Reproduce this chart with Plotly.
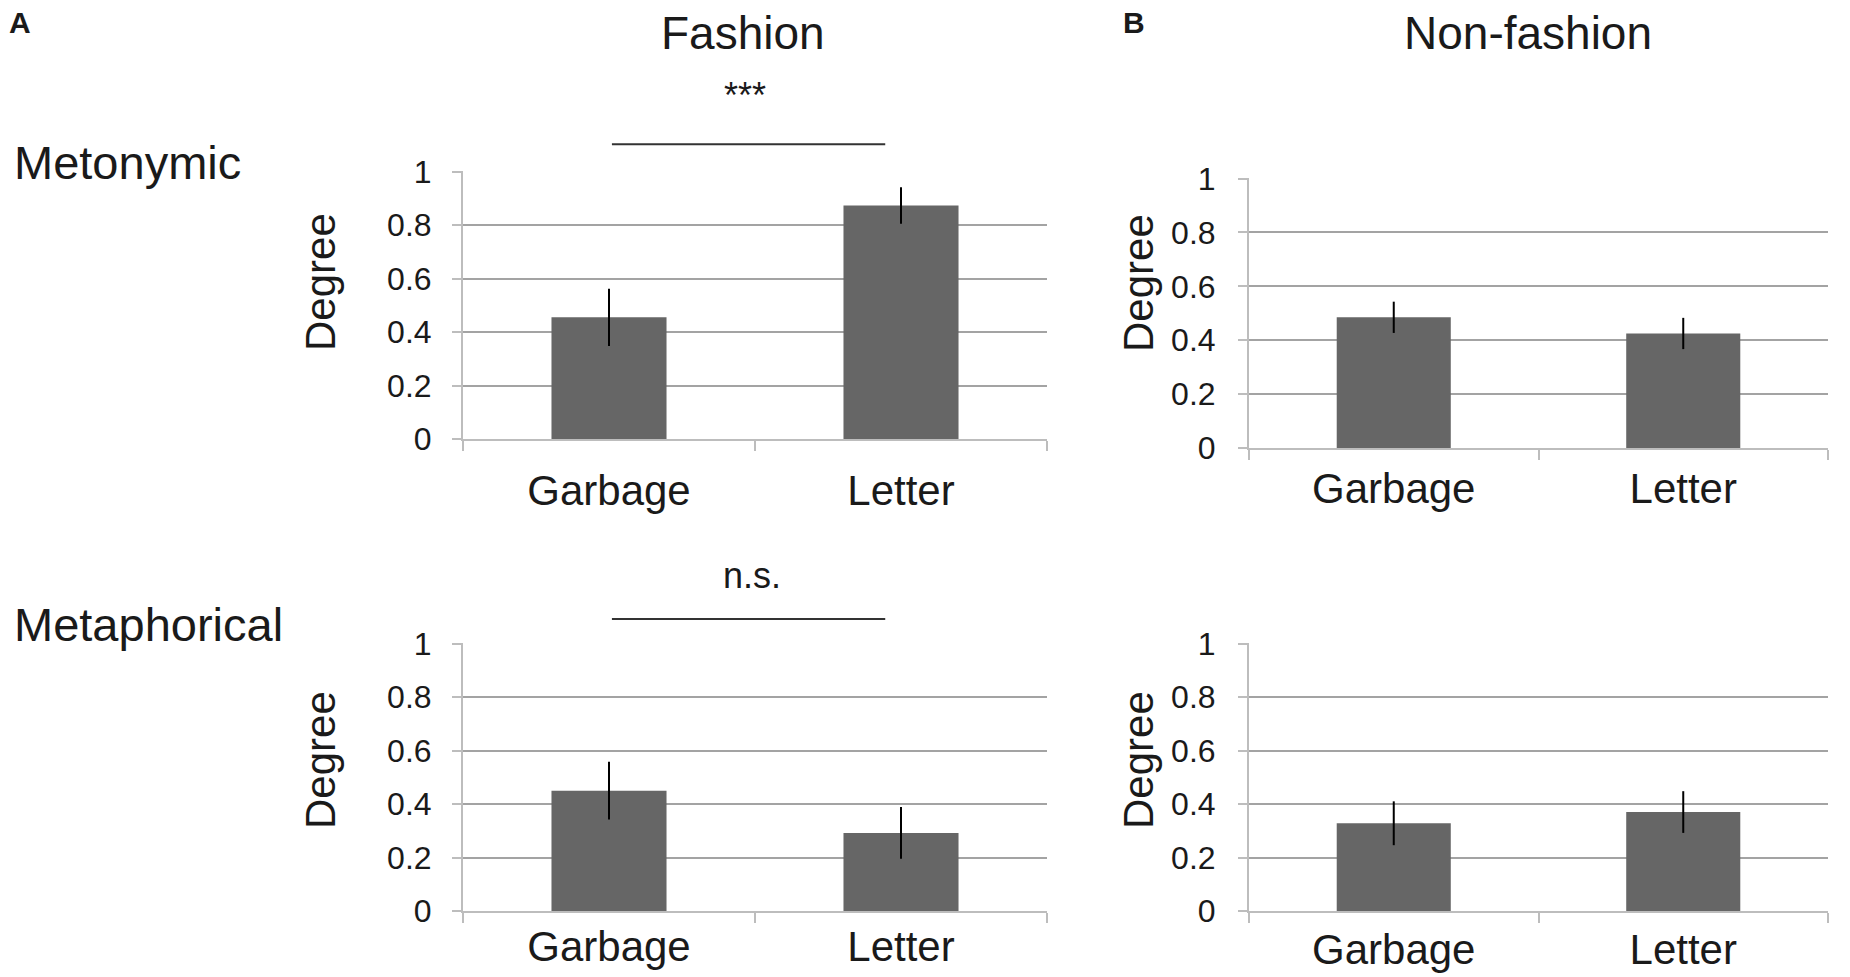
import plotly.graph_objects as go

W, H = 1850, 977

categories = ["Garbage", "Letter"]

fashion_metonymic = [0.455, 0.873]
fashion_metonymic_err = [0.107, 0.068]

nonfashion_metonymic = [0.485, 0.425]
nonfashion_metonymic_err = [0.058, 0.058]

fashion_metaphorical = [0.450, 0.292]
fashion_metaphorical_err = [0.108, 0.097]

nonfashion_metaphorical = [0.328, 0.370]
nonfashion_metaphorical_err = [0.082, 0.078]

y_ticks = [0, 0.2, 0.4, 0.6, 0.8, 1]
y_ticktext = ["0", "0.2", "0.4", "0.6", "0.8", "1"]

FONT = "Liberation Sans, Arial, sans-serif"
BAR = "#666666"
GRID = "#a3a3a3"
AXIS = "#bdbdbd"
TXT = "#1a1a1a"

fig = go.Figure()

panels = [
    ("x", "y", fashion_metonymic, fashion_metonymic_err),
    ("x2", "y2", nonfashion_metonymic, nonfashion_metonymic_err),
    ("x3", "y3", fashion_metaphorical, fashion_metaphorical_err),
    ("x4", "y4", nonfashion_metaphorical, nonfashion_metaphorical_err),
]
for xa, ya, vals, errs in panels:
    fig.add_trace(go.Bar(
        x=categories, y=vals, xaxis=xa, yaxis=ya,
        marker=dict(color=BAR, line=dict(width=0)),
        error_y=dict(type="data", array=errs, visible=True,
                     color="#000000", thickness=2, width=0),
        showlegend=False, hoverinfo="skip",
    ))

def px(v):
    return v / W

def py(v):
    return 1 - v / H

# domains (pixel based)
xdom_left = [px(463), px(1047)]
xdom_right = [px(1249), px(1828)]
ydom_tl = [py(439), py(171)]
ydom_tr = [py(448), py(178)]
ydom_bot = [py(911), py(643)]

def xaxis_cfg(domain, anchor, standoff):
    return dict(
        domain=domain, anchor=anchor, type="category", automargin=False,
        showline=True, linecolor=AXIS, linewidth=2,
        ticks="outside", tickson="boundaries", ticklen=10,
        tickcolor=AXIS, tickwidth=2,
        ticklabelstandoff=standoff,
        tickfont=dict(family=FONT, size=42, color=TXT),
        showgrid=False, zeroline=False, fixedrange=True,
    )

def yaxis_cfg(domain, anchor, standoff):
    return dict(
        domain=domain, anchor=anchor, range=[0, 1.002], automargin=False,
        tickvals=y_ticks, ticktext=y_ticktext,
        showline=True, linecolor=AXIS, linewidth=2,
        ticks="outside", ticklen=9, tickcolor=AXIS, tickwidth=2,
        ticklabelstandoff=standoff,
        tickfont=dict(family=FONT, size=32, color=TXT),
        showgrid=True, gridcolor=GRID, gridwidth=2,
        zeroline=False, fixedrange=True,
    )

fig.update_layout(
    width=W, height=H,
    margin=dict(l=0, r=0, t=0, b=0, pad=0, autoexpand=False),
    paper_bgcolor="white", plot_bgcolor="white",
    bargap=0.606,
    font=dict(family=FONT, color=TXT),
    xaxis=xaxis_cfg(xdom_left, "y", 14),
    yaxis=yaxis_cfg(ydom_tl, "x", 14),
    xaxis2=xaxis_cfg(xdom_right, "y2", 3),
    yaxis2=yaxis_cfg(ydom_tr, "x2", 16),
    xaxis3=xaxis_cfg(xdom_left, "y3", -2),
    yaxis3=yaxis_cfg(ydom_bot, "x3", 14),
    xaxis4=xaxis_cfg(xdom_right, "y4", 1),
    yaxis4=yaxis_cfg(ydom_bot, "x4", 16),
)

ann = []
def text(t, x, y, size, xanchor="center", yanchor="middle", angle=0, bold=False):
    ann.append(dict(
        text=f"<b>{t}</b>" if bold else t,
        x=px(x), y=py(y), xref="paper", yref="paper",
        xanchor=xanchor, yanchor=yanchor, textangle=angle,
        showarrow=False, font=dict(family=FONT, size=size, color=TXT),
    ))

text("A", 20, 23, 30, bold=True)
text("B", 1134, 23, 30, bold=True)
text("Fashion", 743, 33, 46)
text("Non-fashion", 1528, 33, 46)
text("Metonymic", 12, 162, 47, xanchor="left")
text("Metaphorical", 12, 624, 47, xanchor="left")
text("***", 745, 95, 36)
text("n.s.", 752, 575, 36)
text("Degree", 320, 282, 42, angle=-90)
text("Degree", 1138, 283, 42, angle=-90)
text("Degree", 320, 760, 42, angle=-90)
text("Degree", 1138, 760, 42, angle=-90)
fig.update_layout(annotations=ann)

# significance brackets
for xr, yr, yv in [("x domain", "y domain", 1.10), ("x3 domain", "y3 domain", 1.09)]:
    fig.add_shape(type="line", xref=xr, yref=yr, x0=0.255, x1=0.723, y0=yv, y1=yv,
                  line=dict(color="#333333", width=2))

fig.write_html(
    "out.html",
    config={"displayModeBar": False},
    post_script="document.body.style.margin='0';document.documentElement.style.overflow='hidden';",
)
